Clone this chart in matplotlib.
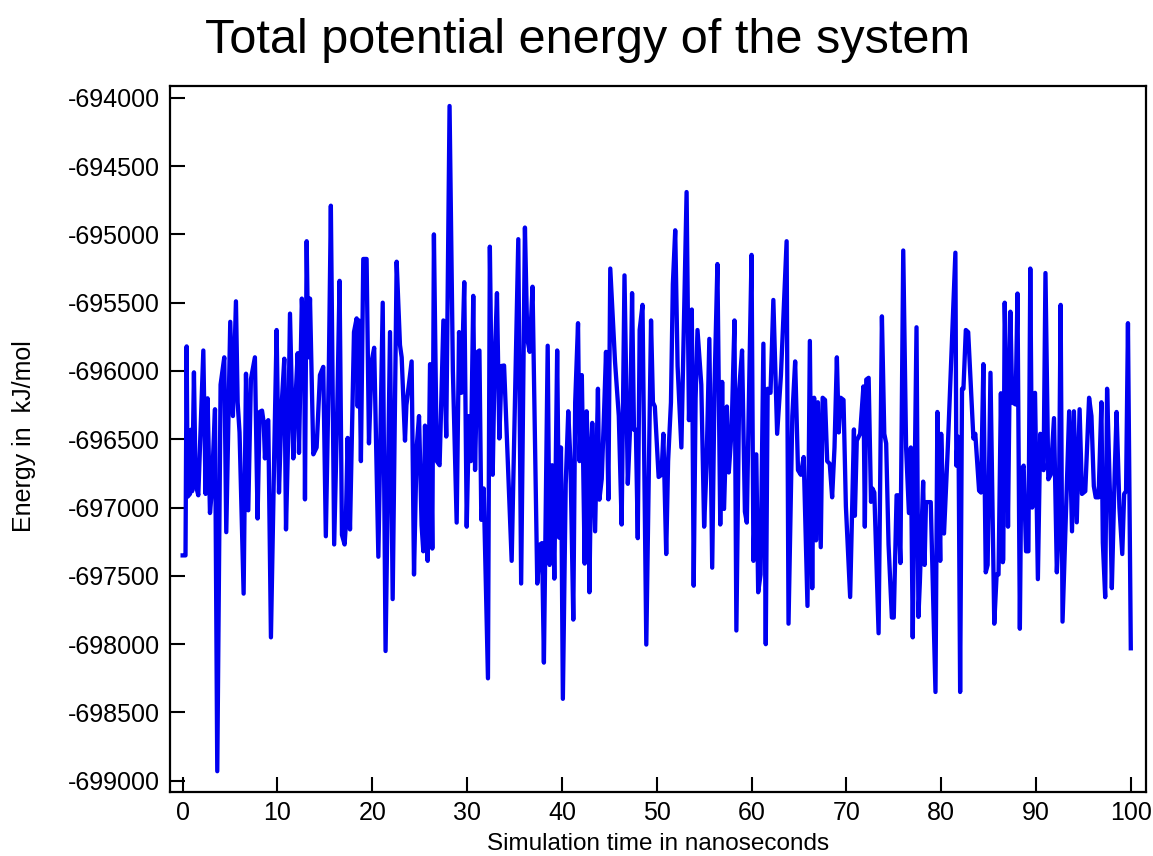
import matplotlib
matplotlib.use("Agg")
import matplotlib.pyplot as plt
import numpy as np

# values (time in ns, energy in kJ/mol)
time_ns = [
    0.0, 0.3, 0.42, 0.53, 0.77, 0.88, 1.0, 1.19, 1.37, 1.65, 2.18, 2.42, 2.63, 2.88, 3.05, 3.41,
    3.65, 4.0, 4.39, 4.6, 5.02, 5.3, 5.62, 5.8, 6.0, 6.43, 6.68, 6.92, 7.2, 7.62, 7.9, 8.12,
    8.37, 8.55, 8.68, 8.86, 9.03, 9.31, 9.66, 9.91, 10.16, 10.44, 10.72, 10.9, 11.14, 11.32, 11.67, 11.84,
    12.13, 12.27, 12.57, 12.83, 12.9, 13.08, 13.25, 13.43, 13.78, 14.13, 14.48, 14.83, 15.1, 15.42, 15.63, 15.98,
    16.3, 16.55, 16.8, 17.08, 17.2, 17.4, 17.65, 18.07, 18.35, 18.46, 18.6, 18.8, 19.05, 19.4, 19.65, 19.93,
    20.2, 20.64, 21.1, 21.4, 21.87, 22.15, 22.57, 22.92, 23.1, 23.45, 23.6, 24.15, 24.4, 24.68, 24.93, 25.2,
    25.38, 25.56, 25.84, 26.09, 26.33, 26.5, 26.8, 27.1, 27.5, 27.8, 28.15, 28.5, 28.9, 29.15, 29.4, 29.7,
    29.96, 30.2, 30.4, 30.65, 30.84, 31.1, 31.3, 31.5, 31.75, 32.2, 32.4, 32.7, 32.9, 33.15, 33.4, 33.65,
    33.9, 34.7, 35.4, 35.7, 36.1, 36.35, 36.6, 36.9, 37.4, 37.7, 37.9, 38.1, 38.5, 38.7, 38.97, 39.2,
    39.5, 39.7, 39.9, 40.1, 40.4, 40.67, 40.9, 41.2, 41.4, 41.7, 41.86, 42.1, 42.4, 42.6, 42.75, 42.9,
    43.05, 43.2, 43.5, 43.8, 43.95, 44.2, 44.45, 44.65, 44.9, 45.1, 45.6, 46.0, 46.3, 46.6, 46.95, 47.2,
    47.4, 47.6, 47.8, 48.0, 48.2, 48.5, 48.9, 49.4, 49.6, 49.8, 50.2, 50.5, 50.7, 51.0, 51.2, 51.5,
    51.7, 51.95, 52.2, 52.6, 53.15, 53.4, 53.7, 53.9, 54.1, 54.3, 54.7, 55.0, 55.25, 55.55, 55.85, 56.1,
    56.4, 56.7, 56.9, 57.1, 57.4, 57.6, 57.9, 58.2, 58.4, 58.7, 59.0, 59.3, 59.5, 59.7, 60.0, 60.2,
    60.5, 60.7, 60.95, 61.25, 61.5, 61.7, 62.0, 62.3, 62.5, 62.7, 63.1, 63.7, 63.9, 64.3, 64.6, 64.9,
    65.2, 65.5, 65.9, 66.15, 66.4, 66.6, 66.8, 67.0, 67.3, 67.5, 67.75, 67.98, 68.25, 68.5, 68.75, 69.0,
    69.2, 69.4, 69.7, 69.95, 70.4, 70.8, 70.9, 71.1, 71.45, 71.8, 71.95, 72.1, 72.35, 72.6, 72.75, 72.95,
    73.4, 73.75, 74.0, 74.2, 74.45, 74.8, 75.0, 75.3, 75.45, 75.7, 76.0, 76.3, 76.6, 76.8, 77.0, 77.4,
    77.6, 77.75, 78.1, 78.25, 78.4, 78.9, 79.4, 79.6, 79.9, 80.0, 80.3, 80.7, 81.5, 81.6, 81.75, 81.85,
    82.0, 82.2, 82.35, 82.6, 82.85, 83.4, 83.6, 84.0, 84.2, 84.45, 84.7, 84.9, 85.2, 85.6, 85.85, 86.05,
    86.3, 86.5, 86.55, 86.7, 86.9, 87.05, 87.3, 87.5, 87.85, 88.05, 88.3, 88.45, 88.7, 88.95, 89.2, 89.4,
    89.6, 89.9, 90.2, 90.45, 90.8, 91.0, 91.3, 91.55, 91.9, 92.2, 92.4, 92.6, 92.8, 93.5, 93.8, 94.0,
    94.3, 94.6, 94.85, 95.2, 95.6, 95.85, 96.1, 96.3, 96.6, 96.9, 97.05, 97.3, 97.5, 97.8, 98.0, 98.3,
    98.5, 98.8, 99.1, 99.3, 99.5, 99.7, 100.0,
]

energy_kj = [
    -697350, -697350, -695820, -696920, -696900, -696430, -696880, -696010, -696830, -696910, -695850, -696900, -696200, -697040, -696900, -696280,
    -698930, -696100, -695900, -697180, -695640, -696330, -695490, -696230, -696450, -697630, -696020, -697020, -696060, -695900, -697080, -696300,
    -696290, -696380, -696640, -696380, -696360, -697950, -696600, -695700, -696890, -696250, -695910, -697160, -696450, -695580, -696640, -696300,
    -695870, -696600, -695470, -695900, -696940, -695050, -695900, -695470, -696610, -696560, -696030, -695970, -697210, -695970, -694790, -697270,
    -696300, -695340, -697200, -697270, -697140, -696490, -697160, -695715, -695615, -696260, -695630, -696660, -695180, -695180, -696530, -695930,
    -695830, -697360, -695500, -698050, -695715, -697670, -695200, -695810, -695900, -696510, -696250, -695930, -697490, -696560, -696330, -697130,
    -697320, -696400, -697390, -695950, -697300, -695000, -696660, -696690, -695630, -696480, -694060, -696000, -697110, -695715, -696160, -695350,
    -697140, -696330, -696660, -695450, -696725, -695860, -695850, -697090, -696860, -698250, -695090, -696760, -695960, -695430, -696494, -695963,
    -695960, -697390, -695035, -697556, -694950, -695765, -695860, -695383, -697556, -697270, -697260, -698135, -695815, -697420, -696690, -697520,
    -695850, -697220, -696560, -698400, -696830, -696295, -696660, -697820, -696230, -695650, -696660, -696030, -697410, -696295, -696560, -697620,
    -696830, -696380, -697174, -696130, -696942, -696790, -696295, -695860, -696940, -695250, -695930, -696330, -697124, -695300, -696826, -696400,
    -695430, -696430, -696430, -697224, -695700, -695516, -698003, -695630, -696230, -696260, -696776, -696760, -696460, -697340, -696660, -696230,
    -695366, -694970, -695963, -696560, -694690, -696360, -695550, -697572, -696200, -695700, -696100, -697140, -696700, -695765, -697440, -696100,
    -695217, -697124, -696080, -697010, -696260, -696743, -696430, -695630, -697900, -696130, -695850, -697030, -697110, -696295, -695150, -697390,
    -696610, -697620, -697490, -695800, -698000, -696130, -696160, -695480, -695980, -696460, -696030, -695050, -697850, -696330, -695930, -696726,
    -696760, -696630, -697720, -695780, -697590, -696196, -697240, -696229, -697290, -696196, -696212, -696660, -696680, -696925, -696560, -695900,
    -696450, -696196, -696212, -696990, -697655, -696428, -697060, -696510, -696460, -696113, -697140, -696063, -696050, -696958, -696860, -696890,
    -697920, -695600, -696460, -696530, -697270, -697805, -697805, -696910, -696910, -697406, -695118, -696560, -697040, -696560, -697950, -695680,
    -697800, -697550, -696810, -697420, -696960, -696960, -698350, -696300, -697390, -696460, -697190, -696560, -695134, -696693, -696480, -696693,
    -698350, -696130, -696130, -695700, -695716, -696494, -696460, -696876, -696890, -695950, -697474, -697420, -696013, -697850, -697490, -697490,
    -696163, -697400, -697380, -695500, -696160, -697140, -695566, -696230, -696245, -695433, -697887, -696730, -696693, -697320, -697320, -695250,
    -697000, -696160, -697524, -696460, -696726, -695283, -696793, -696760, -696345, -697474, -697150, -695516, -697835, -696295, -697174, -696295,
    -697108, -696280, -696900, -696880, -696196, -696330, -696843, -696925, -696925, -696229, -697257, -697656, -696130, -696900, -697590, -696750,
    -696300, -697000, -697340, -696900, -696880, -695650, -698030,
]

x_ticks = list(range(0, 101, 10))
y_ticks = list(range(-699000, -693999, 500))

plt.rcParams['font.family'] = ['Liberation Sans', 'DejaVu Sans']
plt.rcParams['axes.unicode_minus'] = False

fig = plt.figure(figsize=(11.53, 8.56), dpi=100)
ax = fig.add_axes([0.1474, 0.0751, 0.8465, 0.8244])

ax.plot(time_ns, energy_kj, color='#0000f0', linewidth=3.1)

ax.set_xlim(-1.34, 101.6)
ax.set_ylim(-699080, -693914)
ax.set_xticks(x_ticks)
ax.set_yticks(y_ticks)
ax.set_yticklabels([str(v) for v in y_ticks])
ax.tick_params(direction='in', length=11, width=1.5, labelsize=18, pad=7,
               top=False, right=False)
for s in ax.spines.values():
    s.set_linewidth(1.6)

fig.text(0.51, 0.938, 'Total potential energy of the system', fontsize=35,
         ha='center', va='baseline')
fig.text(0.5707, 0.014, 'Simulation time in nanoseconds', fontsize=17.5,
         ha='center', va='center')
fig.text(0.021, 0.49, 'Energy in  kJ/mol', fontsize=18, rotation=90,
         ha='center', va='center')

fig.savefig('out.png', dpi=100)
